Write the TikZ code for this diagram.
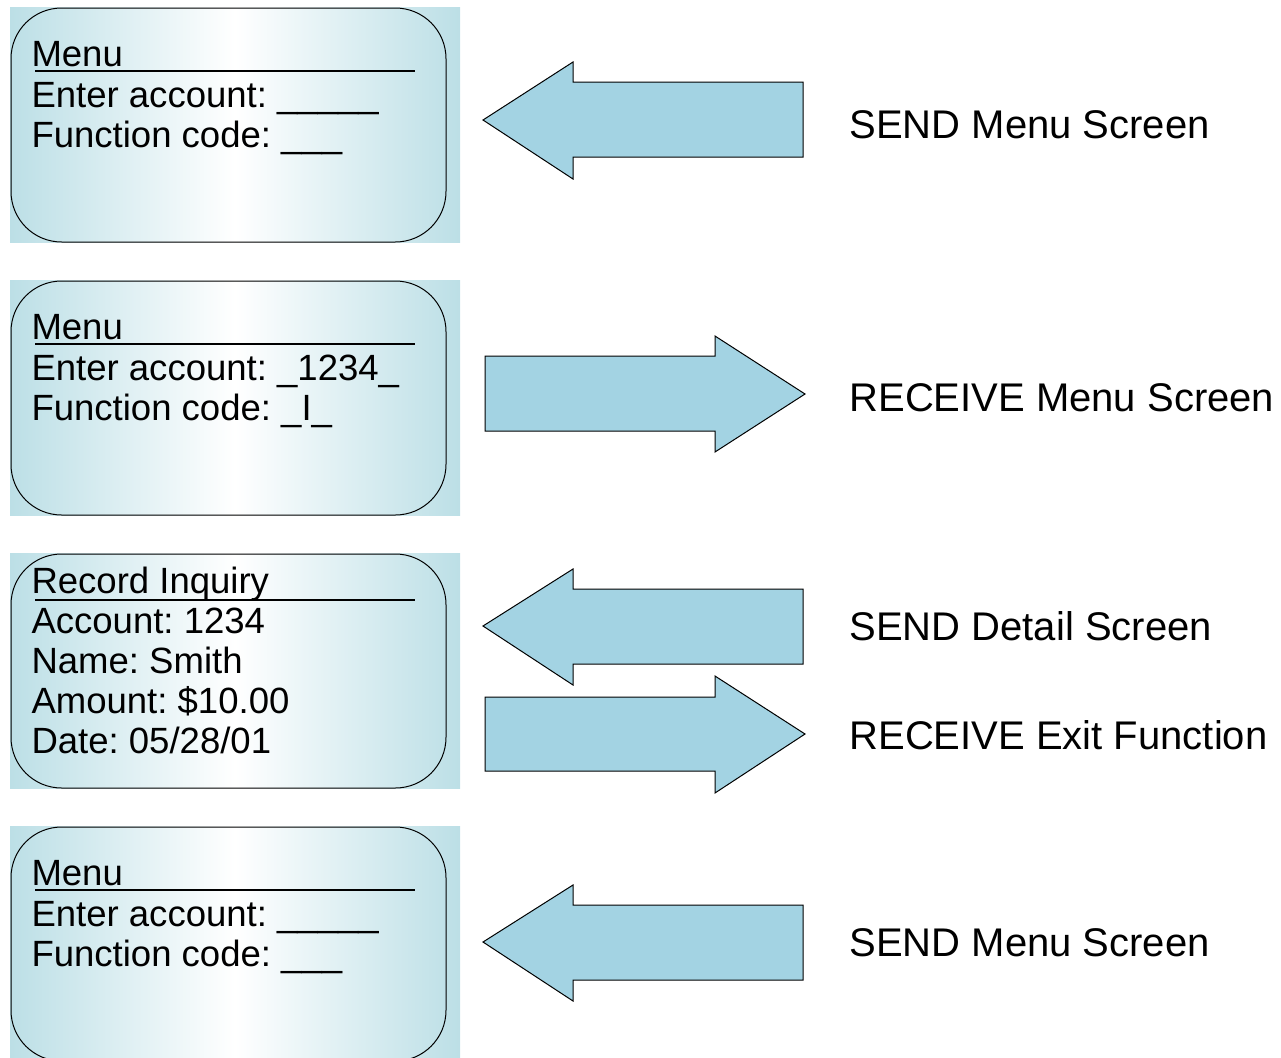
\documentclass[tikz,border=0pt]{standalone}
\usepackage{fontspec}
\setmainfont{Liberation Sans}
\frenchspacing
\definecolor{arrowblue}{RGB}{163,211,227}
\definecolor{screenblue}{RGB}{188,223,230}
\tikzset{every picture/.style={line width=0.75pt}}

\begin{document}
\begin{tikzpicture}[x=0.75pt,y=0.75pt,yscale=-1,xscale=1,
  scrtext/.style={anchor=base west,inner sep=0pt,font=\fontsize{27.4}{30}\selectfont},
  cmdtext/.style={anchor=base west,inner sep=0pt,font=\fontsize{30}{34}\selectfont},
  scrback/.style={left color=screenblue,right color=screenblue,middle color=white},
  scrframe/.style={rounded corners=38},
  titleline/.style={line width=1.1pt},
  bigarrow/.style={fill=arrowblue}]

\useasboundingbox (0,0) rectangle (1281,1057);
\clip (0,0) rectangle (1281,1057);

% Screen 1
\shade [scrback] (10,7) rectangle (460,242);
\draw [scrframe] (11,8) rectangle (446,242);
\node (m1) [scrtext] at (31,66) {Menu};
\draw [titleline] (35,71) -- (415,71);
\node (a1) [scrtext] at (31,107) {Enter account: \_\_\_\_\_};
\node (f1) [scrtext] at (31,147) {Function code: \_\_\_};

% Screen 2
\shade [scrback] (10,280) rectangle (460,515);
\draw [scrframe] (11,281) rectangle (446,515);
\node (m2) [scrtext] at (31,339) {Menu};
\draw [titleline] (35,344) -- (415,344);
\node (a2) [scrtext] at (31,380) {Enter account: \_1234\_};
\node (f2) [scrtext] at (31,420) {Function code: \_I\_};

% Screen 3
\shade [scrback] (10,553) rectangle (460,788);
\draw [scrframe] (11,554) rectangle (446,788);
\node (r3) [scrtext] at (31,593) {Record Inquiry};
\draw [titleline] (35,600) -- (415,600);
\node (a3) [scrtext] at (31,633) {Account: 1234};
\node (n3) [scrtext] at (31,673) {Name: Smith};
\node (s3) [scrtext] at (31,713) {Amount: \$10.00};
\node (d3) [scrtext] at (31,753) {Date: 05/28/01};

% Screen 4
\shade [scrback] (10,826) rectangle (460,1061);
\draw [scrframe] (11,827) rectangle (446,1061);
\node (m4) [scrtext] at (31,885) {Menu};
\draw [titleline] (35,890) -- (415,890);
\node (a4) [scrtext] at (31,926) {Enter account: \_\_\_\_\_};
\node (f4) [scrtext] at (31,966) {Function code: \_\_\_};

% Arrows
\draw [bigarrow] (483,120) -- (573,62) -- (573,82) -- (803,82) -- (803,157) -- (573,157) -- (573,179) -- cycle;
\draw [bigarrow] (805,394) -- (715,336) -- (715,356) -- (485,356) -- (485,431) -- (715,431) -- (715,452) -- cycle;
\draw [bigarrow] (483,626) -- (573,569) -- (573,589) -- (803,589) -- (803,664) -- (573,664) -- (573,685) -- cycle;
\draw [bigarrow] (805,734) -- (715,676) -- (715,697) -- (485,697) -- (485,771) -- (715,771) -- (715,793) -- cycle;
\draw [bigarrow] (483,942) -- (573,885) -- (573,905) -- (803,905) -- (803,980) -- (573,980) -- (573,1001) -- cycle;

% Text Node
\node (l1) [cmdtext] at (849,138) {SEND Menu Screen};
% Text Node
\node (l2) [cmdtext] at (849,411) {RECEIVE Menu Screen};
% Text Node
\node (l3) [cmdtext] at (849,640) {SEND Detail Screen};
% Text Node
\node (l4) [cmdtext] at (849,749) {RECEIVE Exit Function};
% Text Node
\node (l5) [cmdtext] at (849,956) {SEND Menu Screen};

\end{tikzpicture}
\end{document}
